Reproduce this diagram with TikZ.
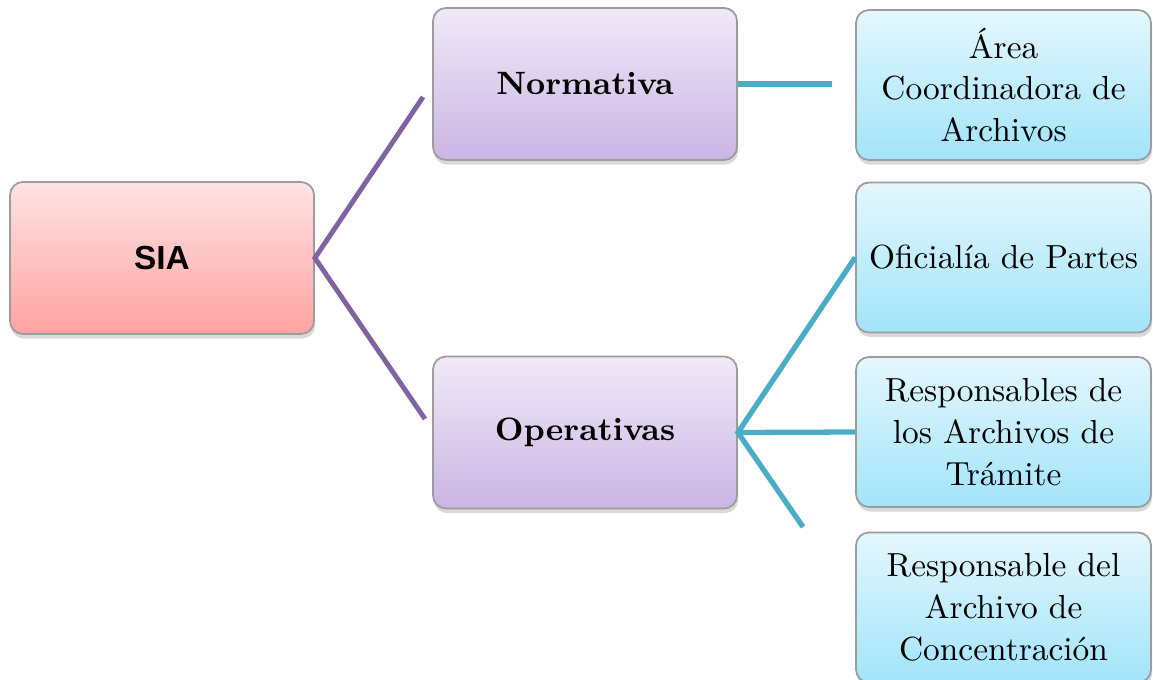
\documentclass[tikz,border=0pt]{standalone}
\usepackage{fontspec}
\usepackage{tikz}
\usetikzlibrary{positioning, shadows}
\newfontfamily\siafont{Liberation Sans}
\definecolor{rosetop}{HTML}{FFE3E3}
\definecolor{rosebottom}{HTML}{FFA2A2}
\definecolor{lilactop}{HTML}{F0E9F7}
\definecolor{lilacbottom}{HTML}{CAB5E4}
\definecolor{skytop}{HTML}{E4F7FD}
\definecolor{skybottom}{HTML}{A2E4FA}
\definecolor{branchpurple}{HTML}{8064A2}
\definecolor{branchcyan}{HTML}{4BACC6}
\definecolor{boxedge}{HTML}{9C9C9C}

\begin{document}
\begin{tikzpicture}[
    box/.style={draw=boxedge, line width=0.5pt, rounded corners=0.13cm,
        minimum width=3.04cm, minimum height=1.52cm, align=center,
        drop shadow={shadow xshift=0.3pt, shadow yshift=-1.3pt, opacity=0.3}},
    rootbox/.style={box, top color=rosetop, bottom color=rosebottom,
        font=\siafont\fontsize{9.5}{11}\selectfont\bfseries},
    midbox/.style={box, top color=lilactop, bottom color=lilacbottom,
        font=\fontsize{9.2}{11.9}\selectfont\bfseries},
    leafbox/.style={box, minimum width=2.95cm, minimum height=1.5cm,
        top color=skytop, bottom color=skybottom,
        font=\fontsize{9.5}{11.9}\selectfont},
    purpleline/.style={draw=branchpurple, line width=1.4pt},
    cyanline/.style={draw=branchcyan, line width=1.5pt}
]
    \useasboundingbox (0,0) rectangle (11.53,-6.79);

    % Boxes
    \node[rootbox] (sia) at (1.62,-2.58) {SIA};
    \node[midbox] (normativa) at (5.85,-0.84) {Normativa};
    \node[midbox] (operativas) at (5.85,-4.325) {Operativas};

    \node[leafbox] (area) at (10.035,-0.85) {Área\\Coordinadora de\\Archivos};
    \node[leafbox] (oficialia) at (10.035,-2.575) {Oficialía de Partes};
    \node[leafbox] (tramite) at (10.035,-4.32) {Responsables de\\los Archivos de\\Trámite};
    \node[leafbox] (concentracion) at (10.035,-6.075) {Responsable del\\Archivo de\\Concentración};

    % Free ends of the branches
    \coordinate (normtip) at (4.23,-0.97);
    \coordinate (opertip) at (4.25,-4.19);
    \coordinate (areatip) at (8.32,-0.84);
    \coordinate (conctip) at (8.03,-5.27);

    % Branches
    \draw[purpleline] (normtip) -- (sia.east) -- (opertip);
    \draw[cyanline] (normativa.east |- areatip) -- (areatip);
    \draw[cyanline] (oficialia.west) -- (operativas.east) -- (conctip);
    \draw[cyanline] (operativas.east) -- (tramite.west);
\end{tikzpicture}
\end{document}
